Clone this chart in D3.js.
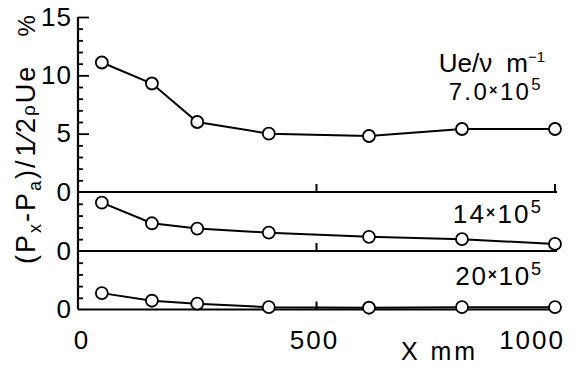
<!DOCTYPE html>
<html>
<head>
<meta charset="utf-8">
<script src="https://cdn.jsdelivr.net/npm/d3@7"></script>
<style>
  html, body { margin: 0; padding: 0; background: #fff; }
  svg { display: block; }
  text { font-family: "Liberation Sans", Arial, sans-serif; fill: #000; }
</style>
</head>
<body>
<script>
// Distance along the plate, mm
const xPositions = [50, 155, 250, 400, 610, 805, 1000];
// Pressure coefficient (%) for each unit Reynolds number
const cp70 = [11.1, 9.3, 6.0, 5.0, 4.8, 5.4, 5.4];
const cp140 = [4.1, 2.35, 1.9, 1.55, 1.2, 1.0, 0.6];
const cp200 = [1.4, 0.75, 0.5, 0.2, 0.15, 0.2, 0.2];
// Tick values
const xTickValues = [0, 500, 1000];
const topMajorTicks = [0, 5, 10, 15];
const subMajorTicks = [0];
// Series labels
const seriesLabels = [["7.0", "10", "5"], ["14", "10", "5"], ["20", "10", "5"]];

const W = 575, H = 367;
const svg = d3.select("body").append("svg").attr("width", W).attr("height", H);
svg.append("rect").attr("width", W).attr("height", H).attr("fill", "#fff");

const xAxisLeft = 78, xAxisRight = 555;
const x = d3.scaleLinear().domain([0, 1000]).range([xAxisLeft, xAxisRight]);

// Three stacked strips sharing the same vertical unit
const panels = [
  { values: cp70,  max: 15, range: [192, 17],   major: topMajorTicks, label: seriesLabels[0] },
  { values: cp140, max: 5,  range: [251, 192],  major: subMajorTicks, label: seriesLabels[1] },
  { values: cp200, max: 5,  range: [309.5, 251], major: subMajorTicks, label: seriesLabels[2] }
];
panels.forEach(p => { p.y = d3.scaleLinear().domain([0, p.max]).range(p.range); });

const ink = "#000";

// Spread a text's glyphs so that it spans the given width
function spreadTo(sel, width) {
  const node = sel.node();
  const natural = node.getComputedTextLength();
  const n = node.textContent.length;
  if (n > 1) sel.attr("letter-spacing", Math.max(0, (width - natural) / (n - 1)));
}

// Vertical axis line
svg.append("line")
  .attr("x1", xAxisLeft).attr("x2", xAxisLeft)
  .attr("y1", panels[0].y(15)).attr("y2", panels[2].y(0))
  .attr("stroke", ink).attr("stroke-width", 2.2);

panels.forEach((p, i) => {
  const g = svg.append("g");
  // minor ticks every 1 unit, pointing inward
  const minor = d3.axisLeft(p.y)
    .tickValues(d3.range(1, p.max).filter(v => v % 5 !== 0))
    .tickSizeInner(-5).tickSizeOuter(0).tickFormat("");
  g.append("g").attr("transform", `translate(${xAxisLeft},0)`).call(minor)
    .call(s => s.select(".domain").remove())
    .call(s => s.selectAll(".tick line").attr("stroke", ink).attr("stroke-width", 1.8));
  // major ticks with labels
  const major = d3.axisLeft(p.y).tickValues(p.major)
    .tickSizeInner(-11).tickSizeOuter(0).tickPadding(6).tickFormat(d3.format("d"));
  g.append("g").attr("transform", `translate(${xAxisLeft},0)`).call(major)
    .call(s => s.select(".domain").remove())
    .call(s => s.selectAll(".tick line").attr("stroke", ink).attr("stroke-width", 1.8)
      .attr("display", d => d === 0 ? "none" : null))
    .call(s => s.selectAll(".tick text").attr("font-size", 26).attr("letter-spacing", 1)
      .attr("font-family", "Liberation Sans, Arial, sans-serif").attr("fill", ink));

  // strip baseline with upward ticks at 500 and 1000
  const y0 = p.y(0);
  svg.append("line").attr("x1", xAxisLeft).attr("x2", x(1000) + 2)
    .attr("y1", y0).attr("y2", y0).attr("stroke", ink).attr("stroke-width", 2.2);
  svg.selectAll(null).data([500, 1000]).join("line")
    .attr("x1", d => x(d)).attr("x2", d => x(d))
    .attr("y1", y0).attr("y2", y0 - 8)
    .attr("stroke", ink).attr("stroke-width", 2);

  // data line and hollow markers
  const pts = xPositions.map((xv, k) => [xv, p.values[k]]);
  svg.append("path").datum(pts)
    .attr("d", d3.line().x(d => x(d[0])).y(d => p.y(d[1])))
    .attr("fill", "none").attr("stroke", ink).attr("stroke-width", 2);
  svg.selectAll(null).data(pts).join("circle")
    .attr("cx", d => x(d[0])).attr("cy", d => p.y(d[1])).attr("r", 6)
    .attr("fill", "#fff").attr("stroke", ink).attr("stroke-width", 1.8);
});

// X axis labels
const xLab = svg.append("g").attr("font-size", 26);
xLab.selectAll(null).data(xTickValues).join("text")
  .attr("x", d => d === 1000 ? x(d) + 10 : x(d) + (d === 0 ? 3 : -2))
  .attr("y", 349)
  .attr("text-anchor", d => d === 1000 ? "end" : "middle")
  .attr("letter-spacing", d => d === 0 ? 0 : 2)
  .text(d => d);
const xTitle = svg.append("text").attr("x", 401).attr("y", 360).attr("font-size", 25)
  .text("X mm");
spreadTo(xTitle, 74);

// Series labels: value × 10^5
const labelBaselines = [100, 223, 285];
const labelSizes = [24, 26, 26];
const labelWidths = [92, 88, 86];
panels.forEach((p, i) => {
  const fs = labelSizes[i];
  const t = svg.append("text").attr("x", 543).attr("y", labelBaselines[i])
    .attr("text-anchor", "end").attr("font-size", fs);
  t.append("tspan").text(p.label[0]);
  t.append("tspan").attr("font-size", fs * 0.6).attr("font-weight", "bold")
    .attr("dy", -fs * 0.2).text("×");
  t.append("tspan").attr("dy", fs * 0.2).text(p.label[1]);
  t.append("tspan").attr("font-size", fs * 0.7).attr("dy", -fs * 0.4).text(p.label[2]);
  spreadTo(t, labelWidths[i]);
});

// Heading for the series labels
const head = svg.append("text").attr("x", 545).attr("y", 72)
  .attr("text-anchor", "end").attr("font-size", 26);
head.append("tspan").text("Ue/ν");
head.append("tspan").attr("dx", 14).text("m");
head.append("tspan").attr("font-size", 15).attr("dy", -10).text("−1");

// Vertical axis title
const yt = svg.append("text")
  .attr("transform", "translate(35,264) rotate(-90)")
  .attr("font-size", 27).attr("letter-spacing", 2);
yt.append("tspan").text("(P");
yt.append("tspan").attr("font-size", 18).attr("dy", 6).text("x");
yt.append("tspan").attr("dy", -6).text("-P");
yt.append("tspan").attr("font-size", 18).attr("dy", 6).text("a");
yt.append("tspan").attr("dy", -6).text(")/");
yt.append("tspan").attr("dx", 2).text("1⁄2");
yt.append("tspan").attr("font-size", 19).text("ρ");
yt.append("tspan").text("Ue");
yt.append("tspan").attr("dx", 28).attr("font-size", 24).attr("letter-spacing", 0).text("%");
</script>
</body>
</html>
